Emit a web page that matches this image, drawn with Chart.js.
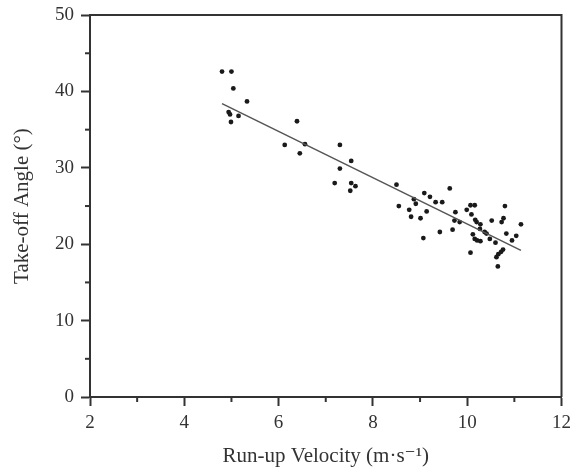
<!DOCTYPE html>
<html>
<head>
<meta charset="utf-8">
<script src="https://cdn.jsdelivr.net/npm/chart.js@4.4.1/dist/chart.umd.min.js"></script>
<style>
  html, body { margin: 0; padding: 0; background: #fff; }
  #wrap { width: 577px; height: 473px; }
</style>
</head>
<body>
<div id="wrap"><canvas id="c" width="577" height="473"></canvas></div>
<script>
// Run-up velocity (m/s) for each jumper
const velocity = [
  4.80, 5.00, 5.04, 5.33, 4.94, 4.97, 5.15, 4.99,
  6.39, 6.13, 6.56, 6.45, 7.30, 7.54, 7.30, 7.19, 7.54, 7.63, 7.52,
  8.50, 9.63, 9.09, 9.21, 9.33, 9.47, 8.87, 8.91, 8.55, 8.77, 9.14, 8.81, 9.01,
  9.75, 9.73, 9.84, 10.07, 10.16, 9.99, 10.09, 10.80, 10.17, 10.20, 10.28,
  10.52, 10.73, 10.77, 11.14, 9.07, 9.42, 9.69, 10.12, 10.16, 10.21, 10.28,
  10.37, 10.41, 10.48, 10.60, 10.83, 11.04, 10.95, 10.07, 10.62, 10.66,
  10.72, 10.76, 10.65, 10.27
];
// Take-off angle (degrees) for each jumper
const angle = [
  42.6, 42.6, 40.4, 38.7, 37.3, 37.0, 36.8, 36.0,
  36.1, 33.0, 33.1, 31.9, 33.0, 30.9, 29.9, 28.0, 28.0, 27.6, 27.0,
  27.8, 27.3, 26.7, 26.2, 25.5, 25.5, 25.9, 25.3, 25.0, 24.5, 24.3, 23.6, 23.4,
  24.2, 23.1, 22.9, 25.1, 25.1, 24.5, 23.9, 25.0, 23.2, 22.9, 22.6,
  23.1, 22.9, 23.4, 22.6, 20.8, 21.6, 21.9, 21.3, 20.7, 20.5, 20.4,
  21.6, 21.4, 20.7, 20.2, 21.4, 21.1, 20.5, 18.9, 18.3, 18.7,
  19.0, 19.3, 17.1, 22.0
];
// Fitted regression line end points
const fitX = [4.80, 11.14];
const fitY = [38.4, 19.2];

const xTicksMajor = [2, 4, 6, 8, 10, 12];
const yTicksMajor = [0, 10, 20, 30, 40, 50];

const xTitle = 'Run-up Velocity (m·s⁻¹)';
const yTitle = 'Take-off Angle (°)';

const scatterPts = velocity.map((v, i) => ({ x: v, y: angle[i] }));
const fitPts = fitX.map((v, i) => ({ x: v, y: fitY[i] }));

const INK = '#333333';
const SERIF = '"Liberation Serif", "DejaVu Serif", serif';

const framePlugin = {
  id: 'frame',
  afterDraw(chart) {
    const { ctx, chartArea: a, scales } = chart;
    ctx.save();
    ctx.strokeStyle = INK;
    ctx.lineWidth = 2;
    // top and right frame lines
    ctx.beginPath();
    ctx.moveTo(a.left, a.top);
    ctx.lineTo(a.right, a.top);
    ctx.lineTo(a.right, a.bottom);
    ctx.stroke();
    // minor ticks
    const ys = scales.y, xs = scales.x;
    ys.ticks.forEach(t => {
      if (!yTicksMajor.includes(t.value)) {
        const p = ys.getPixelForValue(t.value);
        ctx.beginPath();
        ctx.moveTo(a.left - 5, p);
        ctx.lineTo(a.left, p);
        ctx.stroke();
      }
    });
    xs.ticks.forEach(t => {
      if (!xTicksMajor.includes(t.value)) {
        const p = xs.getPixelForValue(t.value);
        ctx.beginPath();
        ctx.moveTo(p, a.bottom);
        ctx.lineTo(p, a.bottom + 5);
        ctx.stroke();
      }
    });
    ctx.restore();
  }
};

new Chart(document.getElementById('c'), {
  data: {
    datasets: [
      {
        type: 'scatter',
        data: scatterPts,
        pointRadius: 2.4,
        pointHoverRadius: 2.4,
        pointBackgroundColor: '#1a1a1a',
        pointBorderColor: '#1a1a1a',
        pointBorderWidth: 0,
        order: 2
      },
      {
        type: 'line',
        data: fitPts,
        borderColor: '#555555',
        borderWidth: 1.5,
        pointRadius: 0,
        fill: false,
        tension: 0,
        order: 1
      }
    ]
  },
  options: {
    responsive: false,
    animation: false,
    events: [],
    layout: { padding: { top: 0, right: 1, left: 0, bottom: 0 } },
    plugins: {
      legend: { display: false },
      tooltip: { enabled: false }
    },
    scales: {
      x: {
        type: 'linear',
        min: 2, max: 12,
        afterFit(scale) { scale.height = 76; },
        ticks: {
          stepSize: 1,
          color: INK,
          font: { family: SERIF, size: 19 },
          padding: 6,
          maxRotation: 0,
          autoSkip: false,
          callback: v => xTicksMajor.includes(v) ? String(v) : ''
        },
        grid: {
          drawOnChartArea: false,
          tickLength: 9,
          tickWidth: 2,
          tickColor: ctx => (ctx.tick && xTicksMajor.includes(ctx.tick.value)) ? INK : 'rgba(0,0,0,0)'
        },
        border: { display: true, color: INK, width: 2 },
        title: {
          display: true,
          text: xTitle,
          color: INK,
          font: { family: SERIF, size: 21 },
          padding: { top: 0, bottom: 4 }
        }
      },
      y: {
        type: 'linear',
        min: 0, max: 50,
        afterFit(scale) { scale.width = 90; },
        ticks: {
          stepSize: 5,
          color: INK,
          font: { family: SERIF, size: 19, lineHeight: 0.85 },
          padding: 7,
          autoSkip: false,
          callback: v => yTicksMajor.includes(v) ? String(v) : ''
        },
        grid: {
          drawOnChartArea: false,
          tickLength: 9,
          tickWidth: 2,
          tickColor: ctx => (ctx.tick && yTicksMajor.includes(ctx.tick.value)) ? INK : 'rgba(0,0,0,0)'
        },
        border: { display: true, color: INK, width: 2 },
        title: {
          display: true,
          text: yTitle,
          color: INK,
          font: { family: SERIF, size: 21 },
          padding: { top: 10, bottom: 0 }
        }
      }
    }
  },
  plugins: [framePlugin]
});
</script>
</body>
</html>
